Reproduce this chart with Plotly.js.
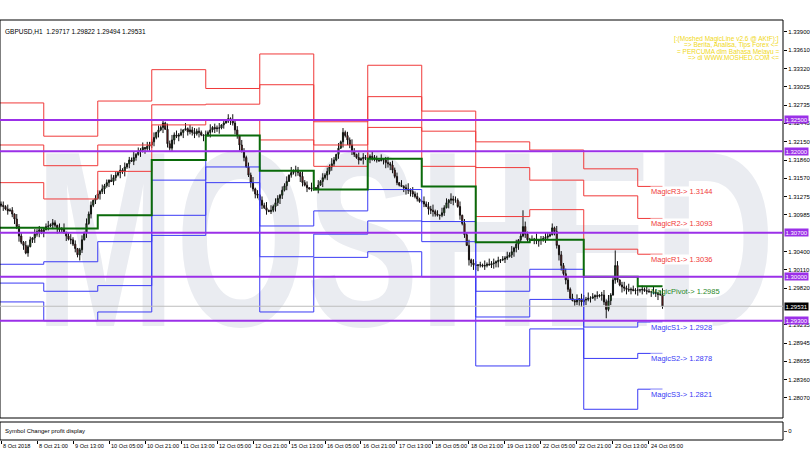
<!DOCTYPE html>
<html><head><meta charset="utf-8">
<script src="https://cdn.plot.ly/plotly-3.0.1.min.js"></script>
<style>html,body{margin:0;padding:0;background:#fff;}#chart{width:810px;height:450px;}</style>
</head><body><div id="chart"></div>
<script>
// ---------- DATA ----------
const symbolTitle = "GBPUSD,H1  1.29717 1.29822 1.29494 1.29531";
const basePrice = 1.29;           // pips below are measured from this price
// hourly closes in pips above 1.2900 (8 Oct 05:00 .. 24 Oct 10:00)
const closePips = [
 214,212,208,205,206,200,192,180,165,155,150,138,148,159,162,168,172,175,171,
 175,180,181,183,186,182,178,175,176,170,165,160,159,152,145,135,143,159,170,185,200,214,222,225,
 232,236,240,245,250,254,252,258,262,266,270,268,275,280,286,284,290,295,300,302,306,304,308,310,
 315,322,330,334,338,345,335,312,305,318,326,324,326,330,334,336,331,334,330,328,332,330,326,325,
 326,330,334,338,336,337,337,342,345,348,352,350,345,334,325,310,300,290,275,262,250,240,232,230,
 222,214,210,206,204,206,212,218,225,230,238,245,252,262,266,268,270,266,260,250,246,242,240,241,
 242,240,246,252,258,262,268,275,280,286,295,305,315,330,325,318,310,300,295,290,286,288,290,289,
 289,292,290,287,286,285,287,286,282,280,278,270,260,250,246,244,242,240,238,236,232,228,224,220,
 220,216,212,208,206,204,200,198,198,202,210,218,222,224,222,222,212,198,185,167,150,127,122,119,
 118,119,119,117,118,120,119,121,122,124,126,127,128,130,132,135,140,146,152,159,165,180,168,159,
 159,158,160,157,159,159,161,163,165,167,178,172,150,135,118,105,95,80,66,62,60,63,65,60,
 63,64,66,66,68,70,69,71,71,60,48,62,71,95,118,95,87,84,82,80,79,80,78,79,
 79,79,80,78,77,76,76,75,74,72,71.7,53.1];
const firstOpenPips = 216;
// upper / lower wick length in pips, one base-36 digit per bar
const wickUp = "4627351846273518462"+"358264173925846137284615"+"627351946283715492638175"+"481736295847361928574631"+
 "739264815372946185374926"+"264918375264819375284619"+"518273649518273649518274"+"937461825937461825937462"+
 "284759361847295638174926"+"615283947261538492716q84"+"372916485372916485372918"+"84936271584936o715849363"+"52637418526a";
const wickDn = "3726158493726158493"+"816273945182736495182736"+"294837165294837165294837"+"573829164573829164573829"+
 "138475926138475926138475"+"962714385962714385962714"+"427193856427193856427193"+"685342179685342179685342"+
 "351968427351968427351968"+"794263158794263158794263"+"216598374216598374216598"+"5837164295e3716429583716"+"947251836924";

// daily MagicLine levels (pips above 1.2900); first bar index of each day (8,9,10,11,12,15,16,17,18,19,22,23,24 Oct)
const dayStart = [-5,19,43,67,91,115,139,163,187,211,235,259,283];
const lineEnd = 294;
const magicR3 = [377,324,380,430,400,455,347,437,364,315,302,272,244];
const magicR2 = [310,277,310,374,375,406,310,387,332,274,254,229,193];
const magicR1 = [250,224,268,342,350,318,276,338,276,196,207,144,136];
const magicP  = [178,177,198,286,325,269,239,288,244,155,159,100,85];
const magicS1 = [120,124,156,254,300,181,205,239,188,77,112,20,28];
const magicS2 = [90,77,86,198,275,132,168,189,156,36,64,-30,-22];
const magicS3 = [60,30,44,166,250,44,131,140,100,-42,17,-111,-79];

const levelLines = [1.32500,1.32000,1.30700,1.30000,1.29300];
const bidPrice = 1.29531;
const yTickVals = [1.33900,1.33610,1.33320,1.33025,1.32735,1.32445,1.32150,1.31860,1.31570,1.31275,1.30985,
 1.30400,1.30110,1.29820,1.29235,1.28945,1.28655,1.28360,1.28070];
const xTickIdx = [0,16,32,48,64,80,96,112,128,144,160,176,192,208,224,240,256,272,288];
const xTickText = ["8 Oct 2018","8 Oct 21:00","9 Oct 13:00","10 Oct 05:00","10 Oct 21:00","11 Oct 13:00","12 Oct 05:00",
 "12 Oct 21:00","15 Oct 13:00","16 Oct 05:00","16 Oct 21:00","17 Oct 13:00","18 Oct 05:00","18 Oct 21:00","19 Oct 13:00",
 "22 Oct 05:00","22 Oct 21:00","23 Oct 13:00","24 Oct 05:00"];
const infoLines = ["[:(Moshed MagicLine v2.6 @ AKtF):]","=> Berita, Analisa, Tips Forex <=","= PERCUMA dlm Bahasa Melayu =","=> di WWW.MOSHED.COM <="];
const watermark = "MOSHED";

// ---------- BUILD ----------
const P = v => +(basePrice + v/10000).toFixed(5);
const n = closePips.length;
const xs=[],o=[],h=[],l=[],c=[];
for(let i=0;i<n;i++){
  const op = i===0?firstOpenPips:closePips[i-1], cl = closePips[i];
  const up = parseInt(wickUp[i]||'0',36), dn = parseInt(wickDn[i]||'0',36);
  xs.push(i); o.push(P(op)); c.push(P(cl));
  h.push(P(Math.max(op,cl)+up)); l.push(P(Math.min(op,cl)-dn));
}
const W=783, TOP=20, BOT=440;
const px = x => x/W, py = y => (BOT-y)/(BOT-TOP);
const FONT = "Liberation Sans, Arial, sans-serif";
const purple = "#9b30e8", red='#f03a3a', blue='#3a3af5';

function stepTrace(arr,color,width){
  return {type:'scatter',mode:'lines',x:[...dayStart,lineEnd],y:[...arr,arr[arr.length-1]].map(P),
    line:{shape:'hv',color:color,width:width},hoverinfo:'skip',showlegend:false,xaxis:'x',yaxis:'y'};
}
const traces = [
  {type:'candlestick',x:xs,open:o,high:h,low:l,close:c,xaxis:'x',yaxis:'y',showlegend:false,hoverinfo:'skip',
   increasing:{line:{color:'#111',width:1},fillcolor:'#19b219'},decreasing:{line:{color:'#111',width:1},fillcolor:'#d42020'}},
  stepTrace(magicR3,red,1), stepTrace(magicR2,red,1), stepTrace(magicR1,red,1),
  stepTrace(magicS1,blue,1), stepTrace(magicS2,blue,1), stepTrace(magicS3,blue,1),
  stepTrace(magicP,'#0a6a0a',2),
  {type:'scatter',mode:'markers',x:[0],y:[0],xaxis:'x',yaxis:'y2',marker:{opacity:0},showlegend:false,hoverinfo:'skip'}
];

const shapes = [
  {type:'rect',xref:'paper',yref:'paper',x0:px(35),x1:px(775),y0:py(305),y1:py(125),layer:'below',line:{width:0},
   label:{text:watermark,textposition:'middle center',font:{family:FONT,size:250,color:'#eaecf1',weight:'bold'}}},
  {type:'rect',xref:'paper',yref:'y domain',x0:0,x1:1,y0:0,y1:1,line:{color:'#000',width:1}},
  {type:'rect',xref:'paper',yref:'y2 domain',x0:0,x1:1,y0:0,y1:1,line:{color:'#000',width:1}},
  {type:'line',xref:'paper',yref:'y',x0:0,x1:1,y0:bidPrice,y1:bidPrice,line:{color:'#bdbdbd',width:1}}
];
levelLines.forEach(v=>shapes.push({type:'line',xref:'paper',yref:'y',x0:0,x1:1,y0:v,y1:v,line:{color:purple,width:2}}));

const ann = [];
ann.push({xref:'paper',yref:'paper',x:0,xshift:3,y:1,yshift:-6,xanchor:'left',yanchor:'top',showarrow:false,
  text:symbolTitle,font:{family:FONT,size:6.5,color:'#000'}});
const infoY=[39,45.3,51.6,57.9];
infoLines.forEach((t,k)=>ann.push({xref:'paper',yref:'paper',x:px(781),y:py(infoY[k]),xanchor:'right',yanchor:'middle',
  showarrow:false,text:t,font:{family:FONT,size:6.5,color:'#f0d820'}}));
levelLines.forEach(v=>ann.push({xref:'paper',yref:'y',x:1,xshift:1,y:v,xanchor:'left',yanchor:'middle',showarrow:false,
  text:v.toFixed(5),bgcolor:purple,borderpad:0.5,font:{family:FONT,size:6,color:'#fff'}}));
ann.push({xref:'paper',yref:'y',x:1,xshift:1,y:bidPrice,xanchor:'left',yanchor:'middle',showarrow:false,
  text:bidPrice.toFixed(5),bgcolor:'#000',borderpad:0.5,font:{family:FONT,size:6,color:'#fff'}});
const magic=[['MagicR3',magicR3,red],['MagicR2',magicR2,red],['MagicR1',magicR1,red],
  ['MagicPivot',magicP,'#2a8a2a'],['MagicS1',magicS1,blue],['MagicS2',magicS2,blue],['MagicS3',magicS3,blue]];
magic.forEach(([nm,arr,col])=>{const v=P(arr[arr.length-1]);
  ann.push({xref:'x',yref:'y',x:288.4,y:v,xanchor:'left',yanchor:'top',showarrow:false,text:nm+'-> '+v.toFixed(4),
   bgcolor:nm==='MagicPivot'?'rgba(0,0,0,0)':'#fff',borderpad:0,font:{family:FONT,size:7.5,color:col}});});
xTickIdx.forEach((ix,k)=>ann.push({xref:'x',yref:'paper',x:ix,y:0,yshift:-1,xanchor:'left',yanchor:'top',showarrow:false,
  text:xTickText[k],font:{family:FONT,size:5.6,color:'#000'}}));
ann.push({xref:'paper',yref:'y2 domain',x:0,xshift:3,y:0.5,xanchor:'left',yanchor:'middle',showarrow:false,
  text:'Symbol Changer profit display',font:{family:FONT,size:6,color:'#000'}});

const layout = {
  width:810,height:450,margin:{l:0,r:27,t:TOP,b:450-BOT,pad:0},paper_bgcolor:'#fff',plot_bgcolor:'#fff',
  showlegend:false,dragmode:false,
  xaxis:{range:[-0.444,347.56],anchor:'y2',showgrid:false,zeroline:false,showline:false,tickvals:xTickIdx,
    ticks:'outside',ticklen:3,tickcolor:'#000',showticklabels:false,rangeslider:{visible:false},fixedrange:true},
  yaxis:{domain:[(BOT-418)/(BOT-TOP),1],range:[1.27751,1.34091],side:'right',showgrid:false,zeroline:false,
    tickvals:yTickVals,ticktext:yTickVals.map(v=>v.toFixed(5)),ticks:'outside',ticklen:3,tickcolor:'#000',
    tickfont:{family:FONT,size:6,color:'#000'},showline:false,fixedrange:true},
  yaxis2:{domain:[0,(BOT-422)/(BOT-TOP)],range:[-1,1],side:'right',showgrid:false,zeroline:false,tickvals:[0],
    ticks:'outside',ticklen:3,tickfont:{family:FONT,size:6,color:'#000'},fixedrange:true},
  shapes:shapes,annotations:ann
};
Plotly.newPlot('chart',traces,layout,{staticPlot:true,displayModeBar:false}).then(()=>{
  document.querySelectorAll('text').forEach(t=>{ if(t.textContent===watermark){
    t.setAttribute('textLength','740'); t.setAttribute('lengthAdjust','spacingAndGlyphs'); }});
});
</script></body></html>
